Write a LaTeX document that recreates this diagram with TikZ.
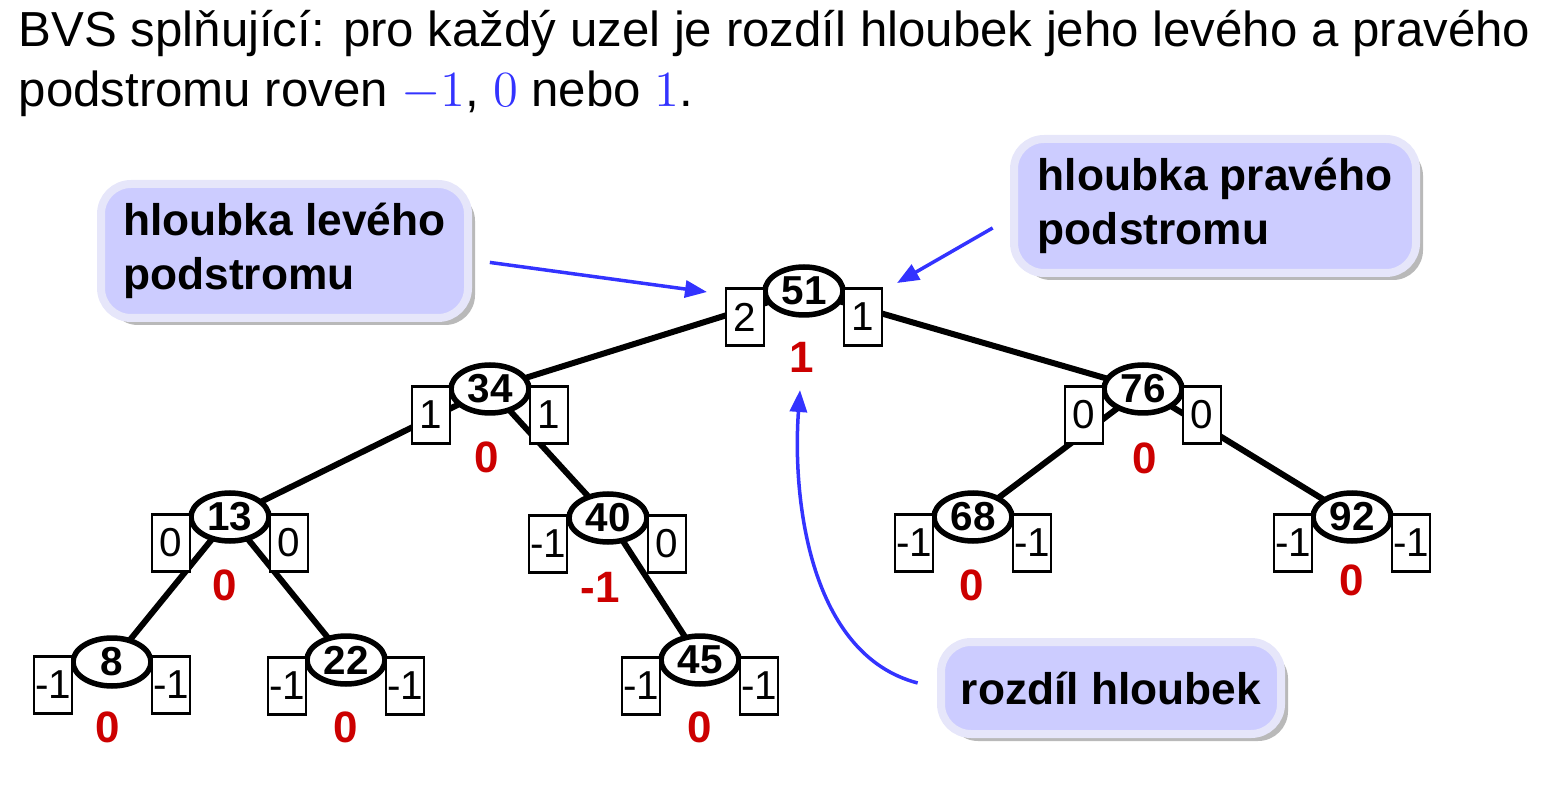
\documentclass[tikz,border=0pt]{standalone}
\usepackage[no-math]{fontspec}
\setmainfont{Liberation Sans}
\usetikzlibrary{arrows.meta,shapes.geometric,shadows,backgrounds,positioning}

\definecolor{callfill}{HTML}{CCCCFF}
\definecolor{callrim}{HTML}{E6E6FA}
\definecolor{hintblue}{HTML}{3333FF}
\definecolor{balred}{HTML}{CC0000}

\tikzset{
  key/.style={ellipse, draw, line width=0.055cm, fill=white, minimum width=0.78cm,
    minimum height=0.48cm, inner sep=0pt, font=\fontsize{11.5}{11.5}\bfseries},
  hbox/.style={rectangle, draw, line width=0.025cm, fill=white, minimum width=0.38cm,
    minimum height=0.57cm, inner sep=0pt, font=\fontsize{11.5}{11.5}\selectfont},
  bal/.style={text=balred, inner sep=0pt, font=\fontsize{12.5}{12.5}\bfseries},
  edge/.style={line width=0.06cm},
  callout/.style={rounded corners=0.3cm, fill=callfill, draw=callrim, line width=0.08cm,
    align=left, inner sep=0pt, font=\fontsize{12.6}{15.3}\bfseries,
    drop shadow={shadow xshift=0.07cm, shadow yshift=-0.07cm, fill=black!55}},
  hint/.style={-{Triangle[length=0.22cm,width=0.17cm]}, hintblue, line width=0.035cm},
}

\begin{document}
\begin{tikzpicture}
  \useasboundingbox (0,0) rectangle (15.57,-7.89);

  % Title
  \node[anchor=base west, inner sep=0pt, font=\fontsize{14}{17}\selectfont] (title1) at (0.18,-0.47)
    {BVS splňující: pro každý uzel je rozdíl hloubek jeho levého a pravého};
  \node[anchor=base west, inner sep=0pt, font=\fontsize{14}{17}\selectfont] (title2) at (0.18,-1.07)
    {podstromu roven \textcolor{hintblue}{$-1$}, \textcolor{hintblue}{$0$} nebo \textcolor{hintblue}{$1$}.};

  % Tree keys
  \node[key] (n51) at (8.04,-2.91) {51};
  \node[key] (n34) at (4.90,-3.89) {34};
  \node[key] (n76) at (11.43,-3.89) {76};
  \node[key] (n13) at (2.30,-5.17) {13};
  \node[key] (n40) at (6.08,-5.18) {40};
  \node[key] (n68) at (9.73,-5.17) {68};
  \node[key] (n92) at (13.52,-5.17) {92};
  \node[key] (n8) at (1.12,-6.62) {8};
  \node[key] (n22) at (3.46,-6.60) {22};
  \node[key] (n45) at (7.00,-6.60) {45};

  % Depths of the subtrees and their difference
  \node[hbox] (l51) at ([shift={(-0.59,-0.26)}]n51.center) {2};
  \node[hbox] (r51) at ([shift={(0.59,-0.26)}]n51.center) {1};
  \node[bal] (d51) at ([shift={(-0.02,-0.66)}]n51.center) {1};

  \node[hbox] (l34) at ([shift={(-0.59,-0.26)}]n34.center) {1};
  \node[hbox] (r34) at ([shift={(0.59,-0.26)}]n34.center) {1};
  \node[bal] (d34) at ([shift={(-0.03,-0.68)}]n34.center) {0};

  \node[hbox] (l76) at ([shift={(-0.59,-0.26)}]n76.center) {0};
  \node[hbox] (r76) at ([shift={(0.59,-0.26)}]n76.center) {0};
  \node[bal] (d76) at ([shift={(0.02,-0.69)}]n76.center) {0};

  \node[hbox] (l13) at ([shift={(-0.59,-0.26)}]n13.center) {0};
  \node[hbox] (r13) at ([shift={(0.59,-0.26)}]n13.center) {0};
  \node[bal] (d13) at ([shift={(-0.05,-0.68)}]n13.center) {0};

  \node[hbox] (l40) at ([shift={(-0.60,-0.26)}]n40.center) {-1};
  \node[hbox] (r40) at ([shift={(0.59,-0.26)}]n40.center) {0};
  \node[bal] (d40) at ([shift={(-0.08,-0.69)}]n40.center) {-1};

  \node[hbox] (l68) at ([shift={(-0.59,-0.26)}]n68.center) {-1};
  \node[hbox] (r68) at ([shift={(0.59,-0.26)}]n68.center) {-1};
  \node[bal] (d68) at ([shift={(-0.01,-0.68)}]n68.center) {0};

  \node[hbox] (l92) at ([shift={(-0.59,-0.26)}]n92.center) {-1};
  \node[hbox] (r92) at ([shift={(0.59,-0.26)}]n92.center) {-1};
  \node[bal] (d92) at ([shift={(0.00,-0.63)}]n92.center) {0};

  \node[hbox] (l8) at ([shift={(-0.59,-0.23)}]n8.center) {-1};
  \node[hbox] (r8) at ([shift={(0.59,-0.23)}]n8.center) {-1};
  \node[bal] (d8) at ([shift={(-0.04,-0.65)}]n8.center) {0};

  \node[hbox] (l22) at ([shift={(-0.59,-0.26)}]n22.center) {-1};
  \node[hbox] (r22) at ([shift={(0.59,-0.26)}]n22.center) {-1};
  \node[bal] (d22) at ([shift={(0.00,-0.67)}]n22.center) {0};

  \node[hbox] (l45) at ([shift={(-0.59,-0.26)}]n45.center) {-1};
  \node[hbox] (r45) at ([shift={(0.59,-0.26)}]n45.center) {-1};
  \node[bal] (d45) at ([shift={(0.00,-0.67)}]n45.center) {0};

  % Edges behind the keys
  \begin{scope}[on background layer]
    \draw[edge] (n51.center) -- (n34.center);
    \draw[edge] (n51.center) -- (n76.center);
    \draw[edge] (n34.center) -- (n13.center);
    \draw[edge] (n34.center) -- (n40.center);
    \draw[edge] (n13.center) -- (n8.center);
    \draw[edge] (n13.center) -- (n22.center);
    \draw[edge] (n40.center) -- (n45.center);
    \draw[edge] (n76.center) -- (n68.center);
    \draw[edge] (n76.center) -- (n92.center);
  \end{scope}

  % Callouts
  \node[callout, minimum width=3.67cm, minimum height=1.34cm] (lcall) at (2.845,-2.51)
    {hloubka levého\\podstromu};
  \node[callout, minimum width=4.02cm, minimum height=1.34cm] (rcall) at (12.15,-2.06)
    {hloubka pravého\\podstromu};
  \node[callout, minimum width=3.40cm, minimum height=0.92cm] (bcall) at (11.11,-6.88)
    {rozdíl hloubek};

  % Pointers
  \coordinate (tipL) at (7.07,-2.92);
  \coordinate (tipR) at (8.97,-2.83);
  \coordinate (tipD) at (8.00,-3.90);
  \draw[hint, shorten <=0.18cm] ([yshift=-0.09cm]lcall.east) -- (tipL);
  \draw[hint, shorten <=0.2cm] ([yshift=-0.12cm]rcall.west) -- (tipR);
  \draw[hint, shorten <=0.2cm] (bcall.west) .. controls (8.10,-6.55) and (7.92,-5.0) .. (tipD);

\end{tikzpicture}
\end{document}
